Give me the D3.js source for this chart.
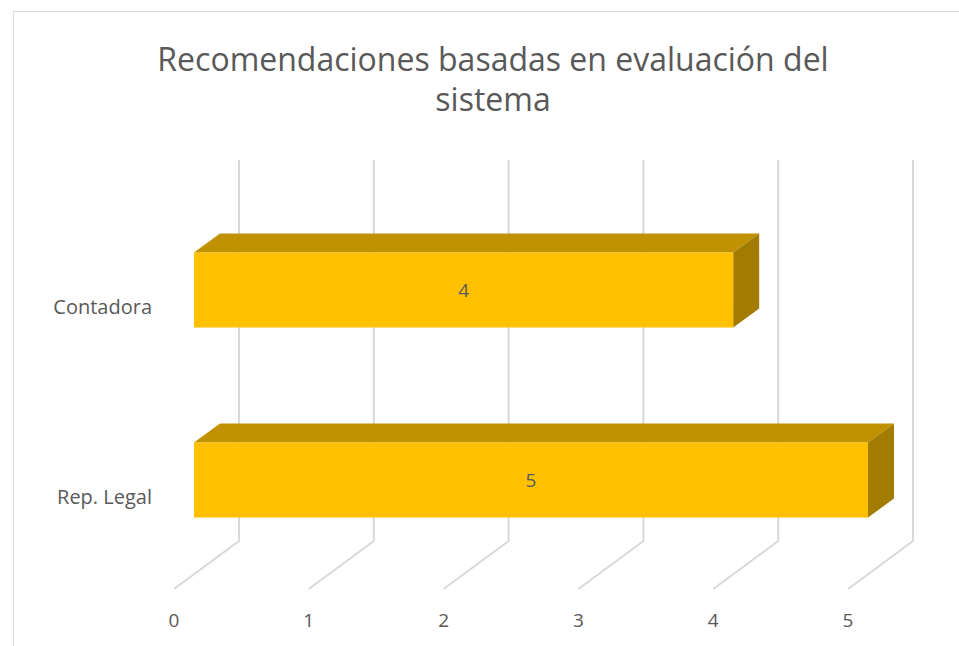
<!DOCTYPE html>
<html>
<head>
<meta charset="utf-8">
<script src="https://cdn.jsdelivr.net/npm/d3@7"></script>
<style>
  body { margin: 0; background: #fff; }
  text { font-family: "Open Sans", "Noto Sans", sans-serif; fill: #595959; }
</style>
</head>
<body>
<svg id="vis" width="959" height="646"></svg>
<script>
const categories = ["Contadora", "Rep. Legal"];
const values = [4, 5];
const ticks = [0, 1, 2, 3, 4, 5];
const titleLines = ["Recomendaciones basadas en evaluación del", "sistema"];

let svg = d3.select("#vis");

// chart frame
svg.append("rect")
  .attr("x", 13.5).attr("y", 11.5)
  .attr("width", 960).attr("height", 650)
  .attr("fill", "#fff")
  .attr("stroke", "#d9d9d9");

// front edge of the floor, depth of the box
let xFloor = d3.scaleLinear().domain([0, 5]).range([174, 848]);
let floorY = 589;
let depth = [65, -48];
let wallTop = 160;
let barFront = [20, -15];   // offset of bar front plane from floor front
let barDepth = [26, -19];

let y = d3.scaleBand()
  .domain(categories)
  .range([195, 575])
  .paddingInner(0.605)
  .paddingOuter(0.3025);

// gridlines: floor diagonal + wall vertical
let grid = svg.append("g");
ticks.forEach(t => {
  let x0 = xFloor(t);
  let x1 = x0 + depth[0];
  let yb = floorY + depth[1];
  grid.append("path")
    .attr("d", `M${x0},${floorY}L${x1},${yb}L${x1},${wallTop}`)
    .attr("fill", "none")
    .attr("stroke", "#d9d9d9")
    .attr("stroke-width", 2);
});

// tick labels
svg.append("g").selectAll("text")
  .data(ticks)
  .enter()
  .append("text")
  .attr("x", d => xFloor(d))
  .attr("y", 627)
  .attr("text-anchor", "middle")
  .style("font-size", "19px")
  .text(d => d);

// bars
let bars = svg.append("g").selectAll("g")
  .data(categories)
  .enter()
  .append("g");

bars.each(function(c, i) {
  let g = d3.select(this);
  let xl = xFloor(0) + barFront[0];
  let xr = xFloor(values[i]) + barFront[0];
  let yt = y(c);
  let yb = yt + y.bandwidth();
  let dx = barDepth[0], dy = barDepth[1];
  // top face
  g.append("path")
    .attr("d", `M${xl},${yt}L${xl + dx},${yt + dy}L${xr + dx},${yt + dy}L${xr},${yt}Z`)
    .attr("fill", "#c09100");
  // side face
  g.append("path")
    .attr("d", `M${xr},${yt}L${xr + dx},${yt + dy}L${xr + dx},${yb + dy}L${xr},${yb}Z`)
    .attr("fill", "#a27c00");
  // front face
  g.append("rect")
    .attr("x", xl)
    .attr("y", yt)
    .attr("width", xr - xl)
    .attr("height", y.bandwidth())
    .attr("fill", "#ffc000");
  // data label
  g.append("text")
    .attr("x", (xl + xr) / 2)
    .attr("y", yt + y.bandwidth() / 2 + 7)
    .attr("text-anchor", "middle")
    .style("font-size", "19px")
    .text(values[i]);
});

// category labels
svg.append("g").selectAll("text")
  .data(categories)
  .enter()
  .append("text")
  .attr("x", 152)
  .attr("y", d => y(d) + y.bandwidth() / 2 + 24)
  .attr("text-anchor", "end")
  .style("font-size", "20px")
  .text(d => d);

// title
svg.append("g").selectAll("text")
  .data(titleLines)
  .enter()
  .append("text")
  .attr("x", 493)
  .attr("y", (d, i) => 71 + i * 40)
  .attr("text-anchor", "middle")
  .style("font-size", "32px")
  .text(d => d);
</script>
</body>
</html>
